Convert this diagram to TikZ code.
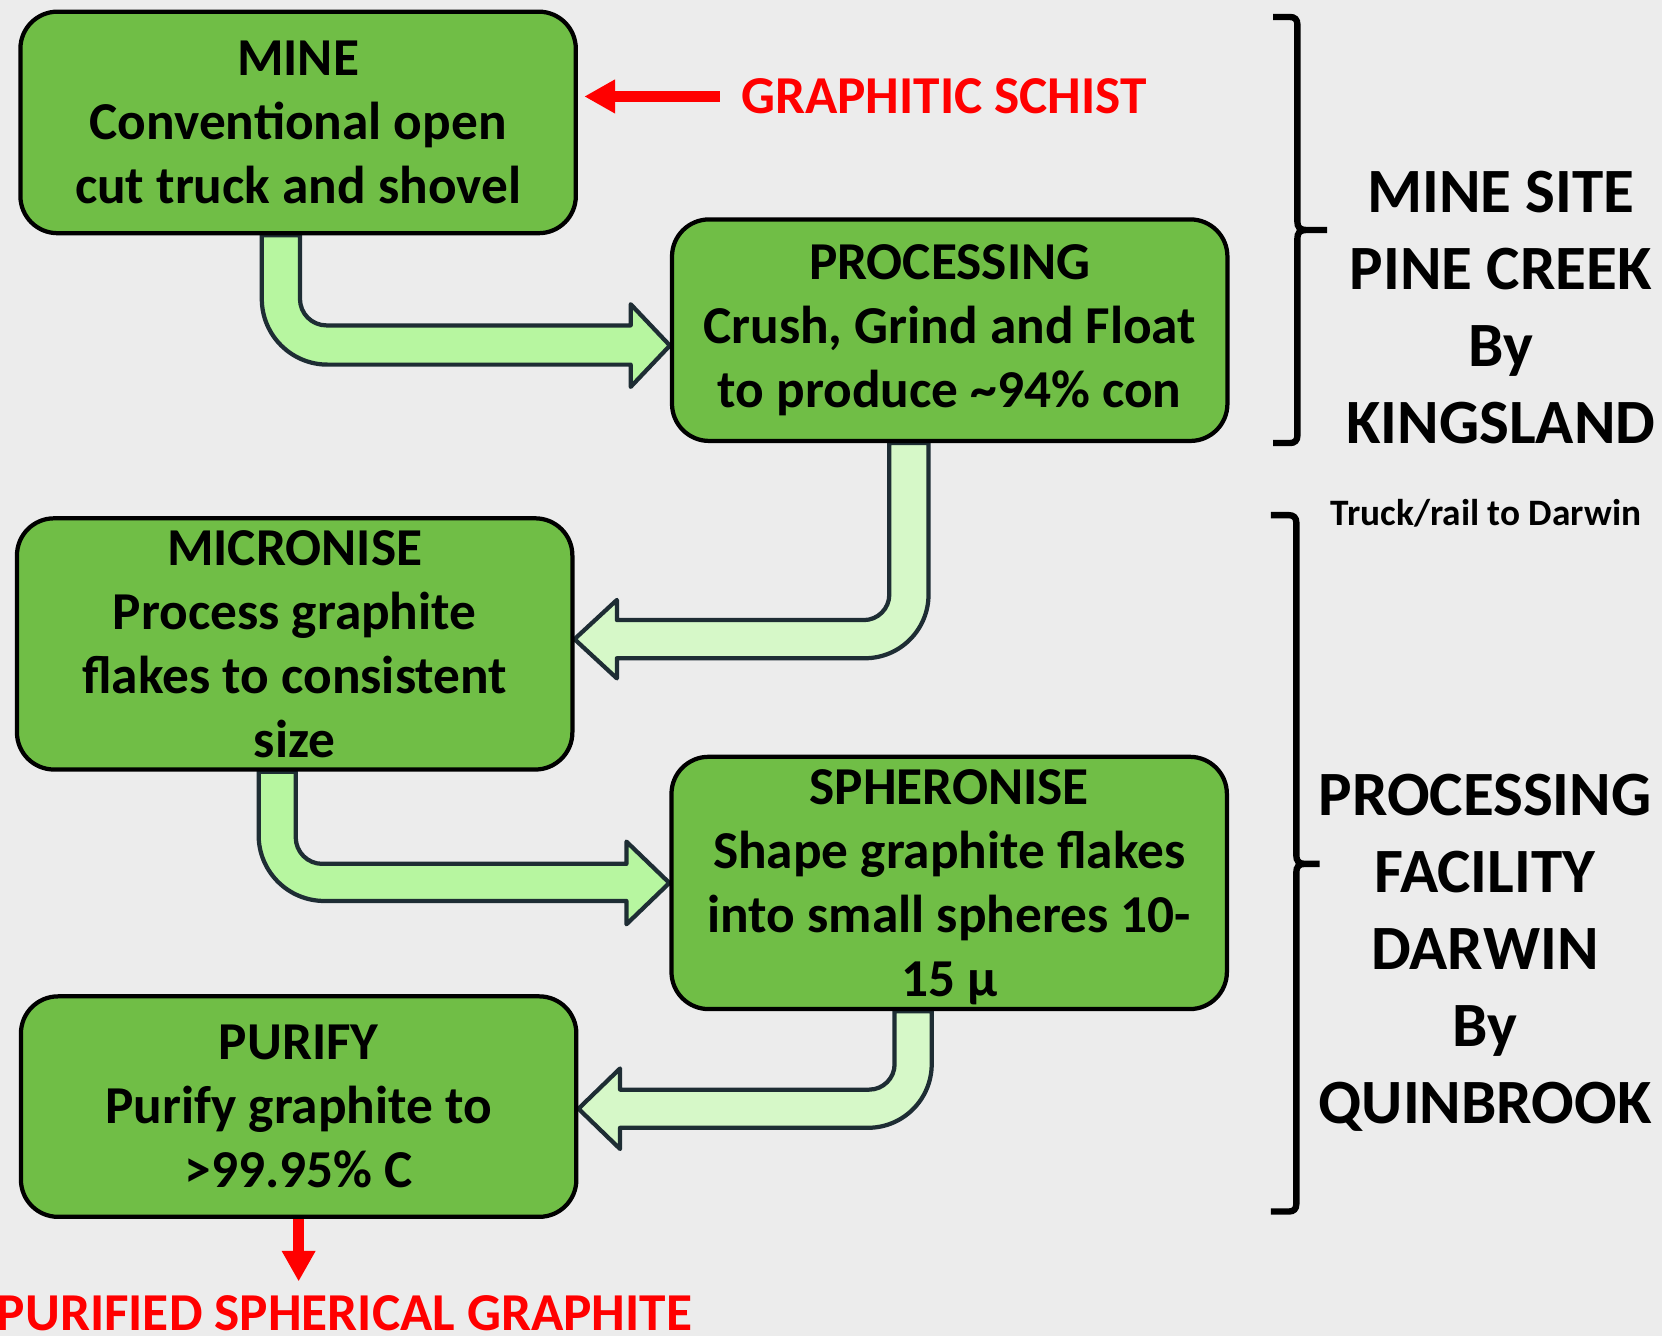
\documentclass[tikz,border=0pt]{standalone}
\usepackage{fontspec}
\setmainfont{Carlito}
\usetikzlibrary{arrows.meta,calc}
\definecolor{boxgreen}{RGB}{112,190,70}
\definecolor{arrowA}{RGB}{183,246,160}
\definecolor{arrowB}{RGB}{214,248,200}
\definecolor{arrowline}{RGB}{30,45,52}
\definecolor{bgc}{RGB}{236,236,236}
\definecolor{redc}{RGB}{255,0,0}
\begin{document}
\begin{tikzpicture}[x=1pt,y=-1pt,
  procbox/.style={draw=black, line width=4pt, fill=boxgreen, rounded corners=35pt,
    minimum width=524pt, minimum height=209pt, align=center, inner sep=0pt,
    font=\bfseries\fontsize{50.3}{60.5}\selectfont},
  boxtext/.style={align=center, inner sep=0pt, font=\bfseries\fontsize{50.3}{60.5}\selectfont},
  flowA/.style={fill=arrowA, draw=arrowline, line width=4pt, line join=round},
  flowB/.style={fill=arrowB, draw=arrowline, line width=4pt, line join=round},
  sidetext/.style={align=center, inner sep=0pt, font=\bfseries\fontsize{59.5}{72.6}\selectfont},
  redtext/.style={text=redc, inner sep=0pt, font=\bfseries\fontsize{50.3}{60}\selectfont},
  redarrow/.style={draw=redc, line width=11pt, -{Triangle[length=29pt,width=30pt]}},
  bracket/.style={draw=black, line width=6pt}
]
\fill[bgc] (0,0) rectangle (1568,1260.4);
\useasboundingbox (0,0) rectangle (1568,1260.4);

% box placeholders (so the arrows can be drawn beneath the boxes)
\node[procbox, draw=none, fill=none] (mine) at (281.25,115.5) {};
\node[procbox, draw=none, fill=none] (proc) at (896,311.5) {};
\node[procbox, draw=none, fill=none, minimum height=237pt] (micro) at (278,607.5) {};
\node[procbox, draw=none, fill=none, minimum height=238pt] (sphero) at (895.5,833) {};
\node[procbox, draw=none, fill=none, minimum height=208pt] (purify) at (281.75,1044) {};

% block arrows
\draw[flowA] (mine.south -| 247,0) -- (247,282) .. controls (247,316.2) and (274.8,344) .. (309,344)
  -- (595,344) -- (595,365) -- (proc.west |- 0,326) -- (595,287) -- (595,307) -- (308,307)
  .. controls (294.2,307) and (283,295.8) .. (283,282) -- (mine.south -| 283,0) -- cycle;
\draw[flowB] (proc.south -| 876,0) -- (876,561) .. controls (876,594.1) and (849.1,621) .. (816,621)
  -- (582,621) -- (582,640) -- (micro.east |- 0,603) -- (582,566) -- (582,585) -- (815,585)
  .. controls (828.2,585) and (839,574.2) .. (839,561) -- (proc.south -| 839,0) -- cycle;
\draw[flowA] (micro.south -| 244,0) -- (244,788) .. controls (244,822.2) and (271.8,850) .. (306,850)
  -- (591,850) -- (591,872) -- (sphero.west |- 0,833) -- (591,794) -- (591,815) -- (304,815)
  .. controls (290.2,815) and (279,803.8) .. (279,790) -- (micro.south -| 279,0) -- cycle;
\draw[flowB] (sphero.south -| 879,0) -- (879,1004) .. controls (879,1037.1) and (852.1,1064) .. (819,1064)
  -- (585,1064) -- (585,1084) -- (purify.east |- 0,1046) -- (585,1008) -- (585,1028) -- (820,1028)
  .. controls (833.2,1028) and (844,1017.2) .. (844,1004) -- (sphero.south -| 844,0) -- cycle;

% boxes drawn on top
\node[procbox] (mineb) at (mine) {MINE\\Conventional open\\cut truck and shovel};
\node[procbox] (procb) at (proc) {PROCESSING\\Crush, Grind and Float\\to produce \textasciitilde94\% con};
\node[procbox, minimum height=237pt] (microb) at (micro) {MICRONISE\\Process graphite\\flakes to consistent\\size};
\node[procbox, minimum height=238pt] (spherob) at (sphero) {};
\node[boxtext] (spherot) at ($(sphero)+(0,4)$) {SPHERONISE\\Shape graphite flakes\\into small spheres 10-\\15 µ};
\node[procbox, minimum height=208pt] (purifyb) at (purify) {PURIFY\\Purify graphite to\\>99.95\% C};

% red labels and arrows
\node[redtext, anchor=west] (schist) at (699,91) {GRAPHITIC SCHIST};
\draw[redarrow, shorten <=20pt, shorten >=6pt] (schist.west) -- (mine.east |- schist.west);
\node[redtext, anchor=north] (out) at (325,1222) {PURIFIED SPHERICAL GRAPHITE};
\draw[redarrow, shorten >=13pt] (purify.south) -- (purify.south |- out.north);

% brackets
\draw[bracket] (1201,16) -- (1217,16) .. controls (1221.5,16) and (1224,18.5) .. (1224,23)
  -- (1224,209) .. controls (1224,214) and (1226,217) .. (1232,217) -- (1252,217)
  (1232,217) .. controls (1226,217) and (1224,220) .. (1224,225)
  -- (1224,411) .. controls (1224,415.5) and (1221.5,418) .. (1217,418) -- (1201,418);
\draw[bracket] (1199,486) -- (1216,486) .. controls (1220.5,486) and (1223,488.5) .. (1223,493)
  -- (1223,807) .. controls (1223,812) and (1225,815) .. (1231,815) -- (1245,815)
  (1231,815) .. controls (1225,815) and (1223,818) .. (1223,823)
  -- (1223,1136) .. controls (1223,1140.5) and (1220.5,1143) .. (1216,1143) -- (1199,1143);

% side texts
\node[sidetext, anchor=north] (site1) at (1416,161) {MINE SITE\\PINE CREEK\\By\\KINGSLAND};
\node[anchor=base, inner sep=0pt, font=\bfseries\fontsize{35.2}{42}\selectfont] (truck) at (1402,496) {Truck/rail to Darwin};
\node[sidetext, anchor=north] (site2) at (1401,730) {PROCESSING\\FACILITY\\DARWIN\\By\\QUINBROOK};
\end{tikzpicture}
\end{document}
